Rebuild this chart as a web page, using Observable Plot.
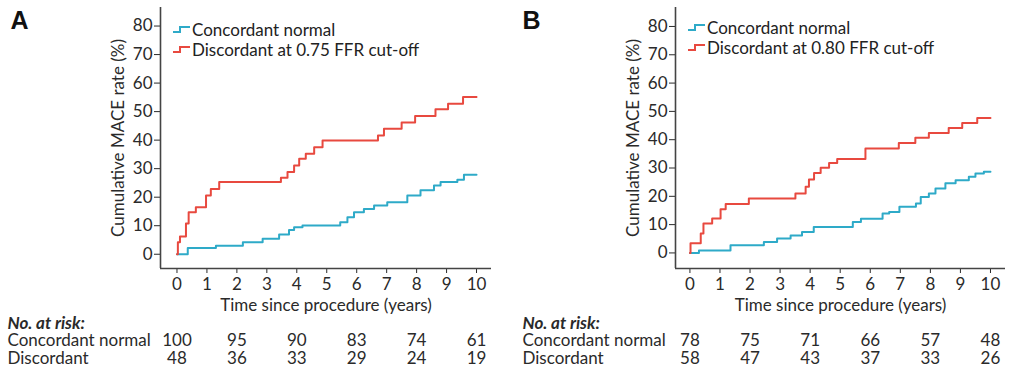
<!DOCTYPE html>
<html>
<head>
<meta charset="utf-8">
<script src="https://cdn.jsdelivr.net/npm/d3@7"></script>
<script src="https://cdn.jsdelivr.net/npm/@observablehq/plot@0.6"></script>
<style>
  body { margin: 0; background: #fff; font-family: Lato, sans-serif; color: #222; }
  #wrap { display: flex; width: 1011px; height: 367px; }
  .panel { position: relative; }
  .legend { position: absolute; font-size: 17px; line-height: 20px; color: #222; }
  .legend div { display: flex; align-items: center; white-space: nowrap; }
  .legend svg { margin-right: 1px; }
</style>
</head>
<body>
<div id="wrap"></div>
<script>
// ---- Data ----
const riskTimes = [0, 2, 4, 6, 8, 10];

// Panel A (0.75 FFR cut-off)
const aConcT = [0, 0.36, 1.3, 2.2, 2.86, 3.41, 3.74, 3.91, 4.19, 5.45, 5.69, 5.91, 6.24, 6.58, 7.02, 7.69, 8.13, 8.58, 8.8, 9.36, 9.58, 10.0];
const aConcV = [0, 2.2, 3.0, 4.2, 5.4, 6.9, 8.5, 9.5, 10.1, 11.2, 13.0, 14.7, 15.9, 17.1, 18.2, 20.6, 22.4, 24.1, 25.3, 26.1, 27.9, 27.9];
const aDiscT = [0, 0.03, 0.1, 0.3, 0.39, 0.63, 0.97, 1.13, 1.41, 3.47, 3.69, 3.91, 4.08, 4.3, 4.58, 4.86, 6.71, 6.91, 7.5, 7.95, 8.63, 9.05, 9.55, 10.0];
const aDiscV = [0, 4.2, 6.2, 10.8, 14.7, 16.5, 20.6, 22.9, 25.3, 26.8, 28.8, 31.1, 33.5, 35.2, 37.5, 39.9, 41.6, 44.0, 46.2, 48.5, 50.8, 52.8, 55.1, 55.1];
const aRiskConc = [100, 95, 90, 83, 74, 61];
const aRiskDisc = [48, 36, 33, 29, 24, 19];

// Panel B (0.80 FFR cut-off)
const bConcT = [0, 0.3, 1.35, 2.46, 2.9, 3.35, 3.73, 4.12, 5.42, 5.69, 6.41, 6.63, 6.97, 7.52, 7.68, 7.95, 8.17, 8.5, 8.84, 9.28, 9.5, 9.78, 10.0];
const bConcV = [0, 0.9, 2.7, 3.9, 5.1, 6.2, 7.4, 9.2, 10.9, 12.1, 13.9, 14.5, 16.3, 17.5, 19.8, 21.0, 22.8, 24.6, 25.7, 26.9, 28.1, 28.7, 28.7];
const bDiscT = [0, 0.02, 0.36, 0.45, 0.74, 1.02, 1.19, 1.96, 3.51, 3.85, 3.96, 4.13, 4.35, 4.63, 4.9, 5.84, 6.95, 7.5, 7.95, 8.61, 9.06, 9.56, 10.0];
const bDiscV = [0, 3.4, 6.9, 10.4, 12.2, 15.4, 17.3, 19.2, 21.0, 23.4, 25.9, 28.2, 30.1, 31.8, 33.2, 36.9, 38.8, 40.7, 42.4, 44.1, 45.9, 47.7, 47.7];
const bRiskConc = [78, 75, 71, 66, 57, 48];
const bRiskDisc = [58, 47, 43, 37, 33, 26];

const yTicks = [0, 10, 20, 30, 40, 50, 60, 70, 80];
const xTicks = [0, 1, 2, 3, 4, 5, 6, 7, 8, 9, 10];

const BLUE = "#2eaac8";
const RED = "#e8493f";
const INK = "#2a2a2a";

const panels = [
  {letter: "A", cutoff: "Discordant at 0.75 FFR cut-off", concT: aConcT, concV: aConcV, discT: aDiscT, discV: aDiscV,
   riskConc: aRiskConc, riskDisc: aRiskDisc, width: 505, ml: 160, mr: 14, xd: [-0.55, 10.5], yd: [-5, 86.5], rowX: 7, letterX: 10, legX: 172, legY: 20},
  {letter: "B", cutoff: "Discordant at 0.80 FFR cut-off", concT: bConcT, concV: bConcV, discT: bDiscT, discV: bDiscV,
   riskConc: bRiskConc, riskDisc: bRiskDisc, width: 506, ml: 170, mr: 6, xd: [-0.48, 10.5], yd: [-5.5, 86.7], rowX: 17, letterX: 17, legX: 182, legY: 18}
];

const wrap = document.getElementById("wrap");

function series(T, V, name) { return T.map((t, i) => ({t, v: V[i], name})); }

for (const p of panels) {
  const conc = series(p.concT, p.concV, "Concordant normal");
  const disc = series(p.discT, p.discV, p.cutoff);
  const riskRows = riskTimes.map((t, i) => ({t, c: p.riskConc[i], d: p.riskDisc[i]}));
  const left = p.ml;
  const txt = {fill: INK, fontSize: 17, lineAnchor: "middle"};
  const chart = Plot.plot({
    width: p.width,
    height: 367,
    marginLeft: p.ml,
    marginRight: p.mr,
    marginTop: 7,
    marginBottom: 99,
    style: {fontFamily: "Lato, sans-serif", fontSize: "17px", color: INK, background: "white", overflow: "visible"},
    x: {domain: p.xd, ticks: xTicks, tickSize: 5, tickPadding: 4, tickFormat: d3.format("d"), label: null},
    y: {domain: p.yd, ticks: yTicks, tickSize: 6, tickPadding: 2, tickFormat: d3.format("d"), label: null},
    marks: [
      Plot.ruleX([p.xd[0]], {stroke: "#444", strokeWidth: 1.6}),
      Plot.ruleY([p.yd[0]], {stroke: "#444", strokeWidth: 1.6}),
      Plot.line(conc, {x: "t", y: "v", stroke: BLUE, strokeWidth: 2, curve: "step-after"}),
      Plot.line(disc, {x: "t", y: "v", stroke: RED, strokeWidth: 2, curve: "step-after"}),
      // axis titles
      Plot.text(["Time since procedure (years)"], {...txt, text: d => d, frameAnchor: "bottom", dy: 37}),
      Plot.text(["Cumulative MACE rate (%)"], {...txt, text: d => d, frameAnchor: "left", textAnchor: "middle", rotate: -90, dx: -42}),
      // panel letter
      Plot.text([p.letter], {text: d => d, frameAnchor: "top-left", textAnchor: "start", lineAnchor: "middle", dx: p.letterX - left, dy: 13, fontSize: 25, fontWeight: "bold", fontFamily: "Liberation Sans, Arial, sans-serif", fill: "#111"}),
      // at-risk table
      Plot.text(["No. at risk:"], {...txt, text: d => d, frameAnchor: "bottom-left", textAnchor: "start", dx: p.rowX - left, dy: 55, fontWeight: "bold", fontStyle: "italic"}),
      Plot.text(["Concordant normal"], {...txt, text: d => d, frameAnchor: "bottom-left", textAnchor: "start", dx: p.rowX - left, dy: 72}),
      Plot.text(["Discordant"], {...txt, text: d => d, frameAnchor: "bottom-left", textAnchor: "start", dx: p.rowX - left, dy: 90}),
      Plot.text(riskRows, {...txt, x: "t", text: "c", frameAnchor: "bottom", dy: 72}),
      Plot.text(riskRows, {...txt, x: "t", text: "d", frameAnchor: "bottom", dy: 90})
    ]
  });
  const div = document.createElement("div");
  div.className = "panel";
  div.style.width = p.width + "px";
  div.appendChild(chart);
  const leg = document.createElement("div");
  leg.className = "legend";
  leg.style.left = p.legX + "px";
  leg.style.top = p.legY + "px";
  const icon = c => `<svg width="19" height="12" viewBox="0 0 19 12"><path d="M1,8 H8 V3 H18" fill="none" stroke="${c}" stroke-width="2"/></svg>`;
  leg.innerHTML = `<div>${icon(BLUE)}<span>Concordant normal</span></div><div>${icon(RED)}<span>${p.cutoff}</span></div>`;
  div.appendChild(leg);
  wrap.appendChild(div);
}
</script>
</body>
</html>
